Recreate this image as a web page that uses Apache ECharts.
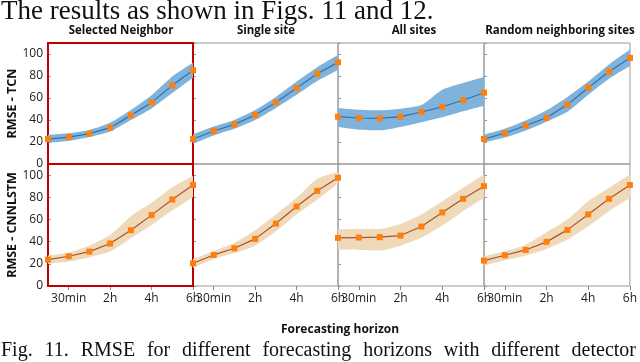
<!DOCTYPE html>
<html>
<head>
<meta charset="utf-8">
<script src="https://cdn.jsdelivr.net/npm/echarts@6/dist/echarts.min.js"></script>
<style>
html, body { margin: 0; padding: 0; background: #fff; }
#main { width: 640px; height: 362px; }
</style>
</head>
<body>
<div id="main"></div>
<script>
// forecasting horizons (one point each), only some of them get a label
var horizons = ['15min', '30min', '1h', '2h', '3h', '4h', '5h', '6h'];
var shownLabels = ['30min', '2h', '4h', '6h'];

var columns = ['Selected Neighbor', 'Single site', 'All sites', 'Random neighboring sites'];
var models = ['RMSE - TCN', 'RMSE - CNNLSTM'];

// TCN
var tcnSelected     = [22.7, 24.5, 27.6, 33.0, 44.2, 56.0, 71.5, 85.2];
var tcnSelectedLow  = [19.5, 21.0, 24.5, 29.5, 40.0, 50.5, 64.5, 78.5];
var tcnSelectedHigh = [26.5, 28.0, 31.0, 37.5, 49.0, 62.5, 79.5, 92.0];
var tcnSingle       = [22.7, 30.0, 36.0, 44.5, 56.0, 69.0, 82.0, 92.4];
var tcnSingleLow    = [18.5, 26.0, 32.0, 40.0, 51.0, 63.0, 75.5, 85.5];
var tcnSingleHigh   = [27.0, 34.0, 40.0, 49.0, 61.0, 75.0, 88.0, 99.0];
var tcnAll          = [43.0, 41.8, 41.5, 43.0, 47.3, 52.0, 58.0, 64.8];
var tcnAllLow       = [33.6, 31.2, 30.6, 33.6, 37.9, 42.4, 47.9, 53.0];
var tcnAllHigh      = [51.0, 49.4, 48.8, 50.3, 53.6, 67.6, 73.6, 79.0];
var tcnRandom       = [22.7, 28.0, 35.0, 42.0, 54.0, 69.4, 84.0, 96.4];
var tcnRandomLow    = [19.5, 24.0, 30.5, 38.5, 47.5, 63.0, 77.5, 89.0];
var tcnRandomHigh   = [26.7, 32.0, 39.5, 48.8, 61.0, 75.0, 90.5, 104.0];

// CNNLSTM
var cnnSelected     = [23.8, 26.8, 31.0, 38.3, 50.3, 63.9, 78.0, 91.0];
var cnnSelectedLow  = [20.0, 22.0, 26.0, 31.0, 43.0, 55.0, 68.0, 80.0];
var cnnSelectedHigh = [27.5, 30.0, 36.5, 46.0, 63.0, 75.0, 89.0, 99.5];
var cnnSingle       = [20.5, 28.0, 34.0, 42.5, 56.3, 71.7, 85.8, 97.6];
var cnnSingleLow    = [16.3, 24.4, 29.8, 36.4, 49.4, 64.5, 78.0, 92.5];
var cnnSingleHigh   = [24.4, 31.3, 38.9, 50.3, 64.5, 79.5, 96.7, 102.7];
var cnnAll          = [43.4, 43.7, 44.0, 45.5, 53.6, 66.3, 78.6, 90.0];
var cnnAllLow       = [32.8, 32.5, 32.0, 36.4, 43.4, 54.5, 67.5, 79.5];
var cnnAllHigh      = [51.0, 51.3, 51.5, 56.0, 64.5, 76.5, 88.6, 100.6];
var cnnRandom       = [22.9, 27.7, 32.5, 39.8, 50.6, 64.5, 78.6, 91.0];
var cnnRandomLow    = [18.4, 23.2, 27.4, 33.4, 41.9, 53.9, 67.5, 79.5];
var cnnRandomHigh   = [26.8, 31.3, 37.3, 48.5, 60.0, 76.5, 88.6, 100.6];

var panels = [
    [[tcnSelected, tcnSelectedLow, tcnSelectedHigh], [tcnSingle, tcnSingleLow, tcnSingleHigh],
     [tcnAll, tcnAllLow, tcnAllHigh], [tcnRandom, tcnRandomLow, tcnRandomHigh]],
    [[cnnSelected, cnnSelectedLow, cnnSelectedHigh], [cnnSingle, cnnSingleLow, cnnSingleHigh],
     [cnnAll, cnnAllLow, cnnAllHigh], [cnnRandom, cnnRandomLow, cnnRandomHigh]]
];

var colLeft = [48, 193, 338, 484];
var colWidth = [145, 145, 146, 146];
var rowTop = [43, 164];
var rowHeight = [121, 122];
var bandColor = ['#7fb3db', '#f0d9b9'];
var lineColor = ['#2c72b0', '#a9532a'];
var uiFont = '"Open Sans", sans-serif';

function showTick(idx, value) {
    return shownLabels.indexOf(value) >= 0;
}

var grids = [], xAxes = [], yAxes = [], series = [];
for (var r = 0; r < 2; r++) {
    for (var c = 0; c < 4; c++) {
        var i = grids.length;
        var p = panels[r][c];
        grids.push({
            left: colLeft[c], top: rowTop[r], width: colWidth[c], height: rowHeight[r],
            show: true, z: c == 0 ? 1 : 0,
            borderColor: c == 0 ? '#c00000' : '#999999',
            borderWidth: c == 0 ? 2 : 1
        });
        xAxes.push({
            gridIndex: i, type: 'category', data: horizons, boundaryGap: false,
            axisLine: { show: false },
            axisTick: { show: r == 1, interval: showTick, length: 4, lineStyle: { color: '#888' } },
            axisLabel: { show: r == 1, interval: showTick, fontFamily: uiFont, fontSize: 12, color: '#222', margin: 7 },
            splitLine: { show: false }
        });
        yAxes.push({
            gridIndex: i, type: 'value', min: 0, max: 110, interval: 20,
            axisLine: { show: false },
            axisTick: { show: true, inside: true, length: 3, lineStyle: { color: '#999' } },
            axisLabel: { show: c == 0, showMaxLabel: false, fontFamily: uiFont, fontSize: 12, color: '#222', margin: 5 },
            splitLine: { show: false },
            name: c == 0 ? models[r] : '',
            nameLocation: 'middle', nameGap: 28, nameRotate: 90,
            nameTextStyle: { fontFamily: uiFont, fontWeight: 'bold', fontSize: 12.5, color: '#111' }
        });
        var low = p[1], high = p[2];
        series.push({
            type: 'line', xAxisIndex: i, yAxisIndex: i, data: low, stack: 'band' + i,
            symbol: 'none', lineStyle: { opacity: 0 }, silent: true, z: 1, smooth: 0.2
        });
        series.push({
            type: 'line', xAxisIndex: i, yAxisIndex: i, stack: 'band' + i,
            data: high.map(function (h, k) { return +(h - low[k]).toFixed(2); }),
            symbol: 'none', lineStyle: { opacity: 0 }, silent: true, z: 1, smooth: 0.2,
            areaStyle: { color: bandColor[r], opacity: 1 }
        });
        series.push({
            type: 'line', xAxisIndex: i, yAxisIndex: i, data: p[0],
            symbol: 'rect', symbolSize: 6, z: 3,
            itemStyle: { color: '#ff7f0e' },
            lineStyle: { color: lineColor[r], width: 1.2 }
        });
    }
}

// body text and caption around the figure
var topText = 'The results as shown in Figs. 11 and 12.';
var captionWords = ['Fig.', '11.', 'RMSE', 'for', 'different', 'forecasting', 'horizons', 'with', 'different', 'detector'];
var serif = '"Liberation Serif", "Times New Roman", serif';

function justify(words, font, x0, x1, y) {
    var ctx = document.createElement('canvas').getContext('2d');
    ctx.font = font;
    var widths = words.map(function (w) { return ctx.measureText(w).width; });
    var total = widths.reduce(function (a, b) { return a + b; }, 0);
    var gap = (x1 - x0 - total) / (words.length - 1);
    var x = x0, out = [];
    words.forEach(function (w, k) {
        out.push({ type: 'text', x: x, y: y, style: { text: w, font: font, fill: '#111', textVerticalAlign: 'bottom', verticalAlign: 'bottom' } });
        x += widths[k] + gap;
    });
    return out;
}

var titleCenters = [121, 266, 414, 560];
var graphics = [
    { type: 'text', x: 1, y: 25, style: { text: topText, font: '27px ' + serif, fill: '#111', textVerticalAlign: 'bottom', verticalAlign: 'bottom' } },
    { type: 'text', x: 340, y: 330, style: { text: 'Forecasting horizon', font: 'bold 12px ' + uiFont, fill: '#111',
        textAlign: 'center', align: 'center', textVerticalAlign: 'middle', verticalAlign: 'middle' } }
];
columns.forEach(function (name, k) {
    graphics.push({ type: 'text', x: titleCenters[k], y: 31, style: { text: name, font: 'bold 11.5px ' + uiFont, fill: '#111',
        textAlign: 'center', align: 'center', textVerticalAlign: 'middle', verticalAlign: 'middle' } });
});
graphics = graphics.concat(justify(captionWords, '20px ' + serif, 1, 636, 361));

var chart = echarts.init(document.getElementById('main'));
chart.setOption({
    animation: false,
    grid: grids,
    xAxis: xAxes,
    yAxis: yAxes,
    series: series,
    graphic: graphics
});
</script>
</body>
</html>
